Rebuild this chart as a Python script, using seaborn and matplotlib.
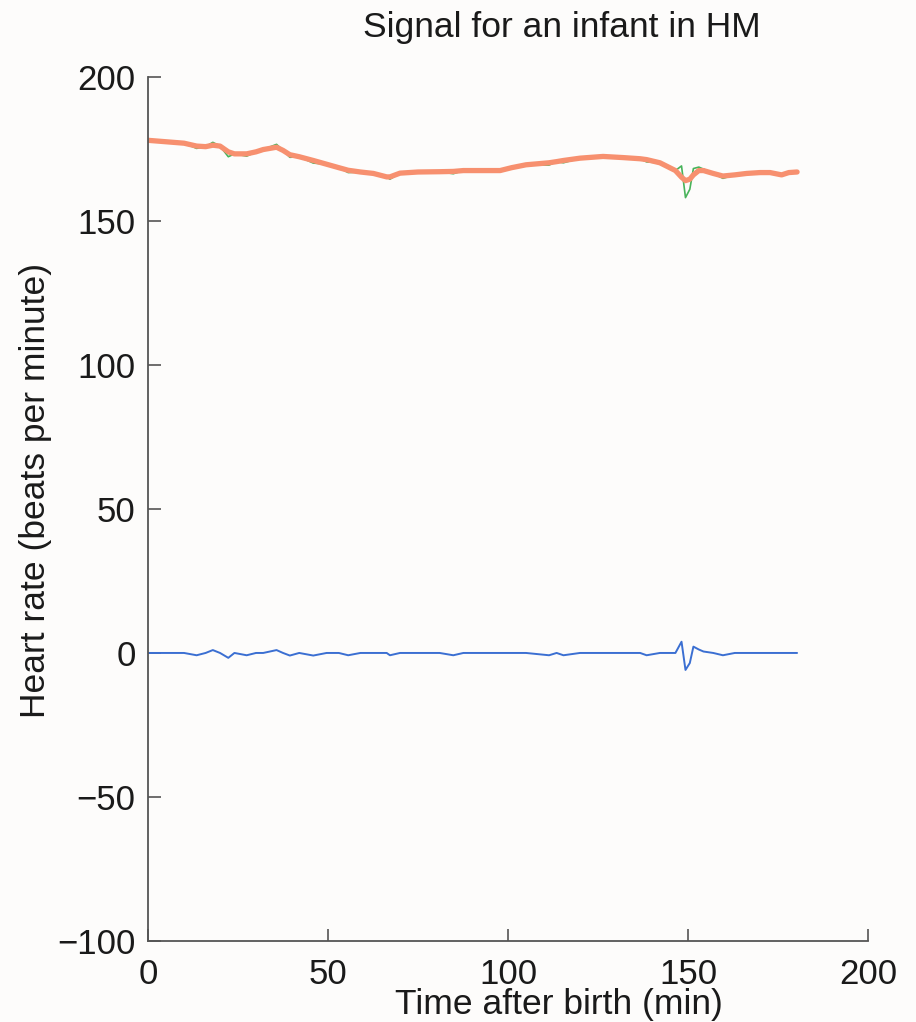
import pandas as pd
import matplotlib.pyplot as plt
import seaborn as sns

# Data
minutes = [0, 5, 10, 13.5, 16, 18, 20, 22.3, 24, 27.4, 30, 32, 35.7, 37.5, 39.4, 42, 45.9,
           49.6, 53, 55.6, 59, 62.6, 66.3, 67.2, 70, 75, 81, 84.8, 87.6, 92, 97.8, 101, 105,
           111.4, 113.5, 115.4, 120, 126.4, 132, 136.7, 138.5, 142.2, 146.5, 148.2, 149.3,
           150.5, 151.5, 153, 154.3, 157, 159.7, 163, 166.3, 170, 172.8, 176, 178, 180.3]
trend = [178, 177.5, 177, 176, 175.8, 176.3, 176, 174, 173.3, 173.3, 174, 174.8, 175.6, 174.5,
         173, 172.3, 171, 169.7, 168.5, 167.6, 167, 166.5, 165.3, 165.3, 166.6, 167, 167.1,
         167.2, 167.5, 167.5, 167.5, 168.5, 169.5, 170.2, 170.6, 171, 171.8, 172.4, 172,
         171.6, 171.3, 170.2, 167.5, 165.2, 164, 164.5, 166, 167.5, 167.5, 166.5, 165.6,
         166, 166.5, 166.8, 166.8, 166, 166.8, 167]
raw = [178, 177.5, 177, 175.2, 175.8, 177.3, 176, 172.3, 173.3, 172.5, 174, 174.8, 176.6,
       174.5, 172.1, 172.3, 170.1, 169.7, 168.5, 166.8, 167, 166.5, 165.3, 164.5, 166.6,
       167, 167.1, 166.4, 167.5, 167.5, 167.5, 168.5, 169.5, 169.4, 170.6, 170.2, 171.8,
       172.4, 172, 171.6, 170.5, 170.2, 167.5, 169.1, 158.1, 161.0, 168.2, 168.7, 168.0,
       166.5, 164.8, 166, 166.5, 166.8, 166.8, 166, 166.8, 167]
residual = [0, 0, 0, -0.8, 0, 1.0, 0, -1.7, 0, -0.8, 0, 0, 1.0, 0, -0.9, 0, -0.9, 0, 0,
            -0.8, 0, 0, 0, -0.8, 0, 0, 0, -0.8, 0, 0, 0, 0, 0, -0.8, 0, -0.8, 0, 0, 0, 0,
            -0.8, 0, 0, 3.9, -5.9, -3.5, 2.2, 1.2, 0.5, 0, -0.8, 0, 0, 0, 0, 0, 0, 0]

df = pd.DataFrame({"t": minutes, "trend": trend, "raw": raw, "residual": residual})

sns.set_theme(style="ticks")
plt.rcParams["font.family"] = ["Liberation Sans", "DejaVu Sans"]

fig = plt.figure(figsize=(9.16, 10.22), dpi=100, facecolor="#fdfcfb")
ax = fig.add_axes([0.1616, 0.0793, 0.786, 0.8454])
ax.set_facecolor("#fdfcfb")

# raw signal under the smoothed trend, residual at zero
sns.lineplot(data=df, x="t", y="raw", ax=ax, color="#48b35a", linewidth=1.2)
sns.lineplot(data=df, x="t", y="trend", ax=ax, color="#f7906f", linewidth=3.8)
sns.lineplot(data=df, x="t", y="residual", ax=ax, color="#3b6fd2", linewidth=1.4)

ax.set_xlim(0, 200)
ax.set_ylim(-100, 200)
ax.set_xticks([0, 50, 100, 150, 200])
ax.set_yticks([-100, -50, 0, 50, 100, 150, 200])
ax.set_yticklabels(["\u2212100", "\u221250", "0", "50", "100", "150", "200"])
ax.set_xlabel("")
ax.set_ylabel("")
ax.tick_params(direction="in", length=9, width=1.2, color="#555555", labelsize=25,
               labelcolor="#1a1a1a")
ax.tick_params(axis="y", pad=9)
ax.tick_params(axis="x", pad=12)
for s in ["top", "right"]:
    ax.spines[s].set_visible(False)
for s in ["left", "bottom"]:
    ax.spines[s].set_color("#555555")
    ax.spines[s].set_linewidth(1.3)

fig.text(0.6135, 0.973, "Signal for an infant in HM", ha="center", va="center",
         fontsize=25.5, color="#1a1a1a")
fig.text(0.61, 0.0176, "Time after birth (min)", ha="center", va="center",
         fontsize=25.5, color="#1a1a1a")
fig.text(0.039, 0.5205, "Heart rate (beats per minute)", ha="center", va="center",
         rotation=90, fontsize=25.5, color="#1a1a1a")

fig.savefig("out.png", dpi=100, facecolor=fig.get_facecolor())
